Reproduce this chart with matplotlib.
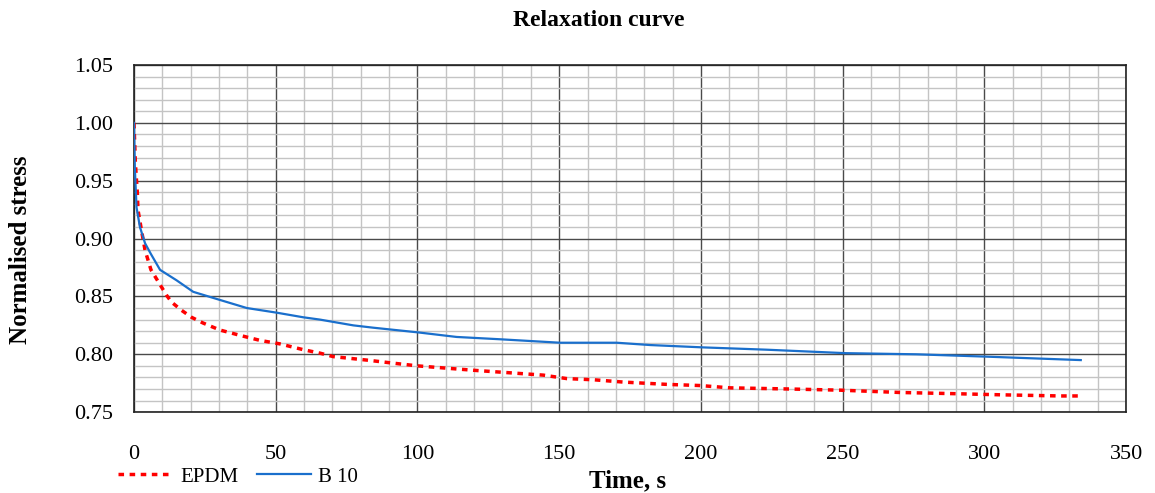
import matplotlib.pyplot as plt
from matplotlib.ticker import MultipleLocator

# time in seconds, normalised stress
t_b10 = [0, 0.3, 0.9, 2.1, 3.9, 5.9, 9.2, 15, 20.9, 30.3, 39.8, 50.3, 59.7, 65.6,
         70.3, 77.4, 84.4, 100, 113.8, 129.1, 150.3, 158.5, 170.3, 182.1, 200.5,
         223, 250.9, 276, 300.5, 334]
b10 = [1.0, 0.961, 0.927, 0.910, 0.896, 0.887, 0.873, 0.864, 0.854, 0.847, 0.840,
       0.836, 0.832, 0.830, 0.828, 0.825, 0.823, 0.819, 0.815, 0.813, 0.810, 0.810,
       0.810, 0.808, 0.806, 0.804, 0.801, 0.800, 0.798, 0.795]

t_epdm = [0, 0.5, 1.2, 1.4, 2.8, 3.9, 6, 11.5, 13.3, 16.8, 20.3, 24.4, 30.3, 38,
          44.5, 51.5, 59.7, 65.6, 70.3, 82.1, 92.7, 100, 110.3, 120.9, 132.7,
          144.4, 152.7, 162.1, 172.6, 188, 199.7, 210.3, 231.5, 249.1, 270.3,
          289, 305.6, 326.7, 334]
epdm = [1.0, 0.965, 0.939, 0.925, 0.905, 0.890, 0.873, 0.851, 0.845, 0.838, 0.832,
        0.827, 0.821, 0.816, 0.812, 0.809, 0.804, 0.801, 0.798, 0.795, 0.792,
        0.790, 0.788, 0.786, 0.784, 0.782, 0.779, 0.778, 0.776, 0.774, 0.773,
        0.771, 0.770, 0.769, 0.767, 0.766, 0.765, 0.764, 0.764]

plt.rcParams['font.family'] = ['Liberation Serif', 'DejaVu Serif']

fig = plt.figure(figsize=(11.55, 4.93), dpi=100)
ax = fig.add_axes([0.116, 0.164, 0.859, 0.704])

ax.plot(t_epdm, epdm, color='#ff0000', lw=2.5, linestyle=(0, (1.6, 1.6)), label='EPDM', zorder=3)
ax.plot(t_b10, b10, color='#1a6fcc', lw=1.6, label='B 10', zorder=4)

ax.set_xlim(0, 350)
ax.set_ylim(0.75, 1.05)
ax.xaxis.set_major_locator(MultipleLocator(50))
ax.xaxis.set_minor_locator(MultipleLocator(10))
ax.yaxis.set_major_locator(MultipleLocator(0.05))
ax.yaxis.set_minor_locator(MultipleLocator(0.01))
ax.yaxis.set_major_formatter(plt.FormatStrFormatter('%.2f'))

ax.grid(which='minor', color='#c4c4c4', lw=1.0)
ax.grid(which='major', color='#4a4a4a', lw=1.0)
ax.set_axisbelow(True)
for s in ax.spines.values():
    s.set_color('#222222')
    s.set_linewidth(1.2)

ax.tick_params(which='both', length=0)
ax.tick_params(axis='x', labelsize=16, pad=24)
ax.tick_params(axis='y', labelsize=16, pad=15)

# title and axis titles placed like the original chart
fig.text(0.518, 0.959, 'Relaxation curve', fontsize=17, fontweight='bold',
         ha='center', va='center')
fig.text(0.543, 0.024, 'Time, s', fontsize=18, fontweight='bold',
         ha='center', va='center')
fig.text(0.0175, 0.494, 'Normalised stress', fontsize=18, fontweight='bold',
         ha='center', va='center', rotation=90)

fig.legend(loc='center left', bbox_to_anchor=(0.0863, 0.033), ncol=2, frameon=False,
           fontsize=15, handlelength=2.6, columnspacing=0.9, handletextpad=0.35)

fig.savefig('out.png', dpi=100)
